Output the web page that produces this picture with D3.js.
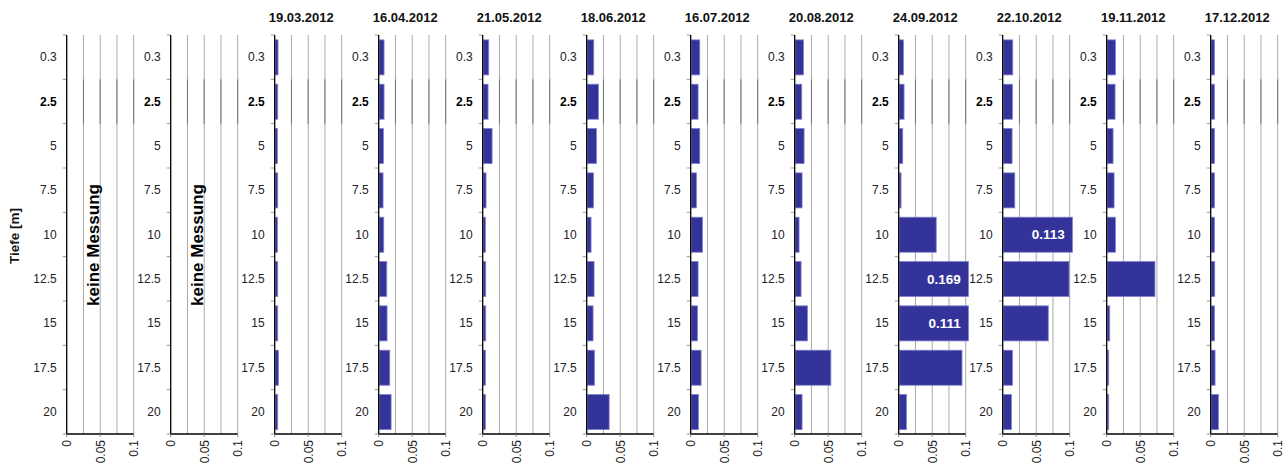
<!DOCTYPE html>
<html><head><meta charset="utf-8">
<script src="https://cdn.jsdelivr.net/npm/d3@7"></script>
<style>
html,body{margin:0;padding:0;background:#fff;}
svg{display:block;font-family:"Liberation Sans",Arial,sans-serif;}
</style></head>
<body>
<svg id="chart" width="1287" height="464"></svg>
<script>
const depths = ["0.3","2.5","5","7.5","10","12.5","15","17.5","20"];
const dates = ["", "", "19.03.2012","16.04.2012","21.05.2012","18.06.2012","16.07.2012","20.08.2012","24.09.2012","22.10.2012","19.11.2012","17.12.2012"];
const xTicks = [0, 0.05, 0.1];
const gridTicks = [0.025, 0.05, 0.075, 0.1];
const noMeasureLabel = "keine Messung";
const yTitle = "Tiefe [m]";

const v19_03 = [0.005,0.0045,0.004,0.0045,0.004,0.0045,0.0045,0.0055,0.0045];
const v16_04 = [0.008,0.008,0.007,0.0065,0.0075,0.012,0.0125,0.0165,0.0185];
const v21_05 = [0.009,0.008,0.014,0.005,0.004,0.0045,0.0045,0.004,0.004];
const v18_06 = [0.0105,0.0175,0.0145,0.01,0.0065,0.011,0.0095,0.0115,0.0335];
const v16_07 = [0.0135,0.011,0.0135,0.0085,0.0175,0.011,0.01,0.0155,0.0115];
const v20_08 = [0.013,0.0105,0.014,0.011,0.0065,0.0095,0.019,0.054,0.011];
const v24_09 = [0.007,0.008,0.006,0.0035,0.056,0.169,0.111,0.0945,0.0115];
const v22_10 = [0.015,0.0145,0.014,0.018,0.113,0.099,0.068,0.0145,0.013];
const v19_11 = [0.013,0.0125,0.0095,0.011,0.013,0.072,0.0045,0.0025,0.003];
const v17_12 = [0.0055,0.0055,0.0055,0.0055,0.0055,0.006,0.0055,0.0065,0.0115];
const series = [null, null, v19_03, v16_04, v21_05, v18_06, v16_07, v20_08, v24_09, v22_10, v19_11, v17_12];

const svg = d3.select("#chart");
const plotTop = 35, plotBottom = 434, plotW = 67, firstLeft = 66.7, stepX = 104;
const panel = d3.scaleLinear().domain([0, 11]).range([firstLeft, firstLeft + 11*stepX]);
const y = d3.scaleBand().domain(depths).range([plotTop, plotBottom]);
const x = d3.scaleLinear().domain([0, 0.1]).range([0, plotW]);
const bw = y.bandwidth();
const maxW = x(0.1) + 2.7;

// y-axis title
svg.append("text").attr("transform", `translate(18.5,236) rotate(-90)`)
  .attr("text-anchor","middle").attr("font-size",13.5).attr("font-weight","bold").attr("fill","#111").text(yTitle);

series.forEach((vals, i) => {
  const g = svg.append("g").attr("transform", `translate(${panel(i)},0)`);
  g.selectAll("line.grid").data(gridTicks).join("line")
    .attr("x1", d => x(d)).attr("x2", d => x(d)).attr("y1", plotTop).attr("y2", plotBottom)
    .attr("stroke", "#a8a8a8").attr("stroke-width", 1);
  g.selectAll("line.gridd").data(gridTicks).join("line")
    .attr("x1", d => x(d)).attr("x2", d => x(d)).attr("y1", y("2.5")).attr("y2", y("2.5") + bw)
    .attr("stroke", "#777").attr("stroke-width", 1);
  const bounds = depths.map(d => y(d)).concat([plotBottom]);
  g.selectAll("line.yt").data(bounds).join("line")
    .attr("x1", -4).attr("x2", 0).attr("y1", d => d).attr("y2", d => d)
    .attr("stroke", "#999");
  g.selectAll("text.yl").data(depths).join("text")
    .attr("x", -10).attr("y", d => y(d) + bw/2).attr("dy", "0.36em")
    .attr("text-anchor", "end").attr("font-size", 12)
    .attr("font-weight", d => d === "2.5" ? "bold" : "normal")
    .attr("fill", d => d === "2.5" ? "#000" : "#222").text(d => d);
  if (vals) {
    g.selectAll("rect.bar").data(vals).join("rect")
      .attr("x", 0.5).attr("y", (d, j) => y(depths[j]) + bw*0.11)
      .attr("width", d => Math.max(1.5, Math.min(x(d), maxW) - 0.5))
      .attr("height", bw*0.79)
      .attr("fill", "#333399").attr("stroke", "#8080d0").attr("stroke-width", 0.8);
    g.selectAll("text.over").data(vals.map((v, j) => ({v, d: depths[j]})).filter(o => o.v > 0.1)).join("text")
      .attr("x", x(0.1) - 5).attr("y", o => y(o.d) + bw/2).attr("dy", "0.36em")
      .attr("text-anchor", "end").attr("font-size", 13.5).attr("font-weight", "bold")
      .attr("fill", "#fff").text(o => d3.format(".3f")(o.v));
  } else {
    g.append("text").attr("transform", `translate(${plotW/2 - 7},245) rotate(-90)`)
      .attr("text-anchor","middle").attr("dy","0.36em").attr("font-size",17).attr("font-weight","bold")
      .attr("fill","#000").text(noMeasureLabel);
  }
  g.append("line").attr("x1",0).attr("x2",0).attr("y1",plotTop).attr("y2",plotBottom).attr("stroke","#000").attr("stroke-width",1.3);
  g.append("line").attr("x1",0).attr("x2",x(0.1)).attr("y1",plotBottom).attr("y2",plotBottom).attr("stroke","#000").attr("stroke-width",1.3);
  g.selectAll("line.xt").data(xTicks).join("line")
    .attr("x1", d => x(d)).attr("x2", d => x(d)).attr("y1", plotBottom).attr("y2", plotBottom + 3).attr("stroke", "#888");
  g.selectAll("text.xl").data(xTicks).join("text")
    .attr("transform", d => `translate(${x(d) + 4.3},440) rotate(-90)`)
    .attr("text-anchor", "end").attr("font-size", 12).attr("fill", "#222")
    .text(d => d3.format("")(d));
  if (dates[i]) {
    g.append("text").attr("x", plotW/2 - 7).attr("y", 21.5).attr("text-anchor","middle")
      .attr("font-size", 13).attr("font-weight","bold").attr("fill","#111").text(dates[i]);
  }
});
</script>
</body></html>
